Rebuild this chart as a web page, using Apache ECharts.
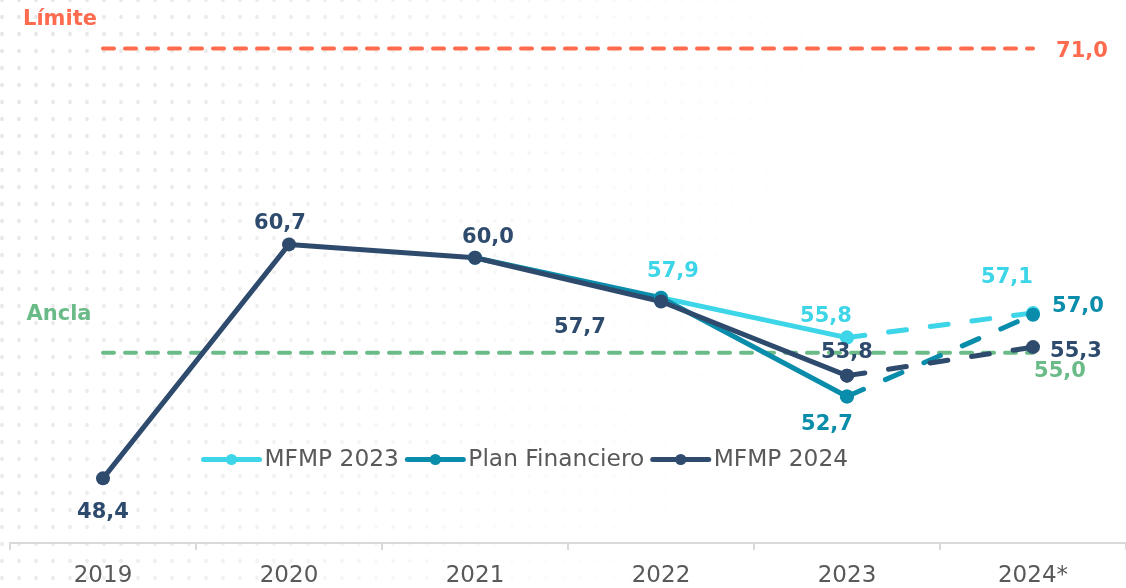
<!DOCTYPE html>
<html>
<head>
<meta charset="utf-8">
<script src="https://cdn.jsdelivr.net/npm/echarts@6/dist/echarts.min.js"></script>
<style>
  html, body { margin: 0; padding: 0; background: #fff; }
  #chart { width: 1126px; height: 588px; }
</style>
</head>
<body>
<div id="chart"></div>
<script>
// data
const categories = ['2019', '2020', '2021', '2022', '2023', '2024*'];
const mfmp2023 = [null, null, null, 57.9, 55.8, 57.1];
const planFinanciero = [null, null, 60.0, 57.9, 52.7, 57.0];
const mfmp2024 = [48.4, 60.7, 60.0, 57.7, 53.8, 55.3];
const limite = 71.0;
const ancla = 55.0;

const FONT = 'DejaVu Sans';
const colors = {
  mfmp2023: '#3DD5E8',
  plan: '#0A8DAA',
  mfmp2024: '#2E4B6E',
  limite: '#FF6B4F',
  ancla: '#6BBB88'
};

// label offsets from the point, [dx, dy]; only points that carry a label
const labelOffsets = {
  mfmp2023: { 3: [12, -26], 4: [-21, -21], 5: [-26, -35] },
  plan: { 4: [-20, 28], 5: [45, -8] },
  mfmp2024: { 0: [0, 34], 1: [-9, -21], 2: [13, -20], 3: [-81, 26], 4: [0, -23], 5: [43, 4] }
};

const lastSolid = 4; // 2024* is a projection, drawn dashed
const fmt = v => v.toFixed(1).replace('.', ',');

function items(values, key, from, to) {
  return values.map((v, i) => {
    if (i < from || i > to || v == null) return null;
    const off = labelOffsets[key][i];
    // label drawn once: solid part up to 2023, dashed part only at 2024*
    const own = to === lastSolid ? i <= lastSolid : i > lastSolid;
    return {
      value: v,
      label: off && own ? { show: true, position: 'inside', offset: off } : { show: false }
    };
  });
}

function dataSeries(name, key, values) {
  const color = colors[key];
  const common = {
    type: 'line',
    color: color,
    symbol: 'circle',
    symbolSize: 14,
    animation: false,
    label: {
      fontFamily: FONT, fontSize: 21, fontWeight: 'bold', color: color,
      formatter: p => fmt(p.value)
    }
  };
  return [
    Object.assign({}, common, {
      name: name,
      data: items(values, key, 0, lastSolid),
      lineStyle: { width: 5, color: color }
    }),
    Object.assign({}, common, {
      name: name + ' (proy.)',
      data: items(values, key, lastSolid, lastSolid + 1),
      lineStyle: { width: 5, color: color, type: [18, 24], cap: 'round' }
    })
  ];
}

function refSeries(name, key, value, leftOff, rightOff) {
  const color = colors[key];
  return {
    name: name,
    type: 'line',
    silent: true,
    animation: false,
    symbol: 'circle',
    symbolSize: 0,
    data: categories.map((c, i) => ({
      value: value,
      label: i === 0
        ? { show: true, position: 'inside', offset: leftOff, formatter: name }
        : i === categories.length - 1
          ? { show: true, position: 'inside', offset: rightOff, formatter: fmt(value) }
          : { show: false }
    })),
    lineStyle: { width: 4, color: color, type: [11, 11], cap: 'round' },
    label: { fontFamily: FONT, fontSize: 21, fontWeight: 'bold', color: color }
  };
}

// faint dot texture behind the plot
const dots = document.createElement('canvas');
dots.width = 17; dots.height = 17;
const dctx = dots.getContext('2d');
dctx.fillStyle = '#e6e6e6';
dctx.beginPath();
dctx.arc(2, 16.5, 1.8, 0, Math.PI * 2);
dctx.arc(2, 0.5, 1.8, 0, Math.PI * 2);
dctx.fill();

const chart = echarts.init(document.getElementById('chart'));
chart.setOption({
  backgroundColor: '#fff',
  graphic: [
    { type: 'rect', z: -10, shape: { x: 0, y: 0, width: 1126, height: 588 },
      style: { fill: { image: dots, repeat: 'repeat' } }, silent: true },
    { type: 'rect', z: -9, shape: { x: 0, y: 0, width: 1126, height: 588 },
      style: { fill: new echarts.graphic.LinearGradient(0, 0, 1, 0.6, [
        { offset: 0, color: 'rgba(255,255,255,0)' },
        { offset: 0.25, color: 'rgba(255,255,255,0.3)' },
        { offset: 0.55, color: 'rgba(255,255,255,0.85)' },
        { offset: 0.75, color: 'rgba(255,255,255,1)' }
      ]) }, silent: true }
  ],
  grid: { left: 10, right: 0, top: 1, bottom: 45, containLabel: false },
  legend: {
    data: ['MFMP 2023', 'Plan Financiero', 'MFMP 2024'],
    left: 201,
    top: 448,
    padding: 0,
    itemWidth: 56,
    itemHeight: 14,
    itemGap: 6,
    selectedMode: false,
    lineStyle: { width: 5, cap: 'round' },
    textStyle: { fontFamily: FONT, fontSize: 23.3, color: '#595959' }
  },
  xAxis: {
    type: 'category',
    data: categories,
    boundaryGap: true,
    axisLine: { lineStyle: { color: '#d9d9d9', width: 2 } },
    axisTick: { show: true, length: 7, lineStyle: { color: '#d9d9d9', width: 2 } },
    axisLabel: { fontFamily: FONT, fontSize: 23, color: '#595959', margin: 22 },
    splitLine: { show: false }
  },
  yAxis: {
    type: 'value',
    min: 45,
    max: 73.5,
    show: false,
    splitLine: { show: false }
  },
  series: [
    refSeries('Límite', 'limite', limite, [-43, -29], [49, 3]),
    refSeries('Ancla', 'ancla', ancla, [-44, -38], [27, 19]),
    ...dataSeries('MFMP 2023', 'mfmp2023', mfmp2023),
    ...dataSeries('Plan Financiero', 'plan', planFinanciero),
    ...dataSeries('MFMP 2024', 'mfmp2024', mfmp2024)
  ]
});
</script>
</body>
</html>
